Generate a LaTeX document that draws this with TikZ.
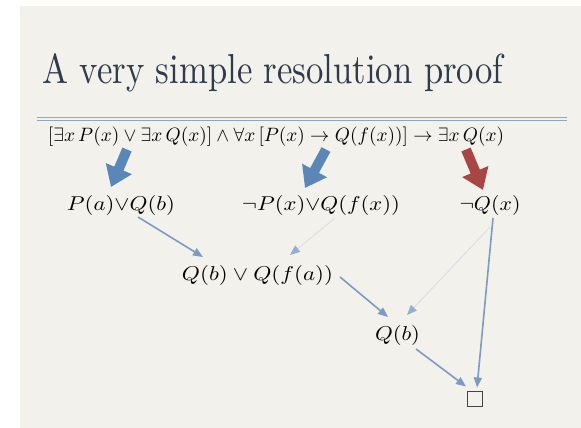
\documentclass[tikz,border=0pt]{standalone}
\usepackage{graphicx}
\usetikzlibrary{arrows.meta,calc}
\definecolor{outerbg}{HTML}{FFFFFF}
\definecolor{slidebg}{HTML}{F3F1EC}
\definecolor{titlecol}{HTML}{2F3B4B}
\definecolor{rulecol}{HTML}{91A5BF}
\definecolor{bigblue}{HTML}{5A87B8}
\definecolor{bigred}{HTML}{A94545}
\definecolor{conncol}{HTML}{7B9BC4}
\definecolor{faintcol}{HTML}{D9DCE0}
\definecolor{boxcol}{HTML}{444444}
\tikzset{
  lbl/.style={inner sep=0pt, text=black},
  bigarrowblue/.style={line width=10pt, color=bigblue, -{Triangle[length=20pt,width=27pt]}},
  bigarrowred/.style={line width=10pt, color=bigred, -{Triangle[length=20pt,width=27pt]}},
  conn/.style={line width=1.6pt, color=conncol, -{Triangle[length=10pt,width=8pt]}},
  faintconn/.style={line width=0.8pt, color=faintcol, -{Triangle[length=10pt,width=8pt,color=conncol!80]}},
  emptybox/.style={draw=boxcol, line width=0.9pt, minimum size=15pt, inner sep=0pt}
}
\begin{document}
\begin{tikzpicture}[x=1pt,y=-1pt]
  \fill[outerbg] (0,0) rectangle (581,428);
  \useasboundingbox (0,0) rectangle (581,428);
  \fill[slidebg] (20,6) rectangle (581,428);
  % title
  \node[anchor=base west, inner sep=0pt, text=titlecol] (title) at (42,83)
    {\resizebox{461pt}{30pt}{A very simple resolution proof}};
  % rules
  \draw[rulecol, line width=0.9pt] (37,117) -- (567,117);
  \draw[rulecol, line width=0.9pt] (37,120.5) -- (567,120.5);
  % formula
  \node[lbl] (f) at (276,136.5)
    {\resizebox{456pt}{14.5pt}{$[\exists x\, P(x)\vee \exists x\, Q(x)]\wedge \forall x\,[P(x)\rightarrow Q(f(x))]\rightarrow \exists x\, Q(x)$}};
  % clauses
  \node[lbl] (pq) at (121,205) {\resizebox{108pt}{15pt}{$P(a){\vee}Q(b)$}};
  \node[lbl] (npq) at (321,205) {\resizebox{158pt}{15pt}{$\neg P(x){\vee}Q(f(x))$}};
  \node[lbl] (nq) at (490,205) {\resizebox{61pt}{15pt}{$\neg Q(x)$}};
  \node[lbl] (qq) at (257.5,275) {\resizebox{151pt}{15pt}{$Q(b)\vee Q(f(a))$}};
  \node[lbl] (qb) at (397.5,335) {\resizebox{45pt}{15pt}{$Q(b)$}};
  \node[emptybox] (box) at (475,398.5) {};
  % big arrows from the formula
  \draw[bigarrowblue] ($(f)+(-149,13)$) -- ($(pq)+(-10,-18)$);
  \draw[bigarrowblue] ($(f)+(50,13)$) -- ($(npq)+(-16,-17)$);
  \draw[bigarrowred] ($(f)+(190,13)$) -- ($(nq)+(-7,-15)$);
  % resolution steps
  \draw[conn] ($(pq)+(17,12)$) -- ($(qq)+(-54.5,-18)$);
  \draw[faintconn] ($(npq)+(14,13)$) -- ($(qq)+(32.5,-20)$);
  \draw[conn] ($(qq)+(82.5,2)$) -- ($(qb)+(-9.5,-18)$);
  \draw[faintconn] ($(nq)+(0,22)$) -- ($(qb)+(9.5,-20)$);
  \draw[conn] ($(qb)+(18.5,14)$) -- ($(box)+(-9,-12)$);
  \draw[conn] ($(nq)+(3,13)$) -- ($(box)+(2,-11)$);
\end{tikzpicture}
\end{document}
